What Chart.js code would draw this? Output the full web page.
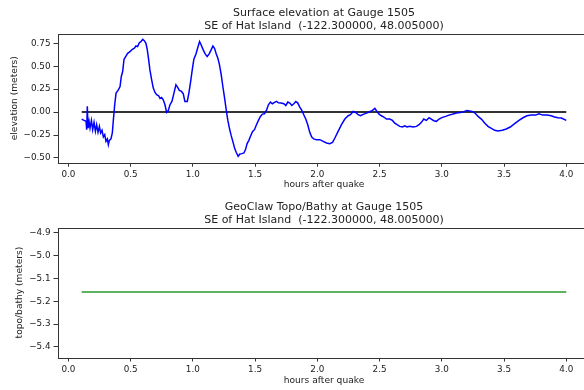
<!DOCTYPE html>
<html lang="en">
  <head>
    <meta charset="UTF-8" />
    <title>Gauge 1505</title>
    <script src="https://cdn.jsdelivr.net/npm/chart.js@4"></script>
    <style>
      html, body { margin: 0; padding: 0; background: #fff; overflow: hidden; width: 584px; height: 390px; }
      .panel { position: absolute; left: 0; width: 600px; }
      #topPanel { top: 0; height: 195px; }
      #botPanel { top: 194px; height: 196px; }
    </style>
  </head>
  <body>
    <div class="panel" id="topPanel"><canvas id="etaChart"></canvas></div>
    <div class="panel" id="botPanel"><canvas id="bathyChart"></canvas></div>

    <script>
      // gauge 1505 surface elevation
      const gaugeT = [
        0.107, 0.126, 0.142, 0.147, 0.152, 0.158, 0.166, 0.174, 0.185, 0.195,
        0.206, 0.217, 0.227, 0.238, 0.249, 0.259, 0.270, 0.281, 0.292, 0.302,
        0.313, 0.321, 0.329, 0.342, 0.353, 0.361, 0.372, 0.383, 0.399, 0.415,
        0.425, 0.436, 0.447, 0.460, 0.476, 0.495, 0.514, 0.530, 0.543, 0.556,
        0.570, 0.583, 0.597, 0.610, 0.623, 0.634, 0.645, 0.655, 0.669, 0.682,
        0.696, 0.709, 0.725, 0.736, 0.749, 0.762, 0.776, 0.789, 0.803, 0.816,
        0.832, 0.848, 0.864, 0.877, 0.891, 0.909, 0.923, 0.936, 0.955, 0.968,
        0.982, 0.995, 1.008, 1.025, 1.038, 1.054, 1.067, 1.083, 1.099, 1.115,
        1.131, 1.147, 1.161, 1.174, 1.188, 1.201, 1.214, 1.228, 1.241, 1.255,
        1.268, 1.281, 1.295, 1.308, 1.321, 1.335, 1.348, 1.364, 1.378, 1.394,
        1.410, 1.423, 1.436, 1.450, 1.463, 1.479, 1.495, 1.511, 1.527, 1.543,
        1.559, 1.575, 1.591, 1.607, 1.623, 1.639, 1.656, 1.672, 1.688, 1.709,
        1.731, 1.747, 1.763, 1.779, 1.795, 1.811, 1.827, 1.843, 1.859, 1.875,
        1.891, 1.907, 1.923, 1.939, 1.955, 1.971, 1.993,
        2.020, 2.047, 2.074, 2.100, 2.122, 2.141, 2.167, 2.194, 2.221, 2.248,
        2.266, 2.288, 2.309, 2.328, 2.347, 2.368, 2.395, 2.421, 2.443, 2.462,
        2.475, 2.496, 2.515, 2.534, 2.555, 2.582, 2.603, 2.622, 2.641, 2.662,
        2.684, 2.702, 2.721, 2.743, 2.769, 2.796, 2.817, 2.836, 2.855, 2.876,
        2.898, 2.916, 2.935, 2.957, 2.978, 3.005, 3.031, 3.058, 3.090, 3.117,
        3.149, 3.176, 3.203, 3.224, 3.251, 3.272, 3.291, 3.318, 3.344, 3.371,
        3.398, 3.425, 3.451, 3.486, 3.518, 3.550, 3.585, 3.620, 3.652, 3.684,
        3.719, 3.754, 3.780, 3.812, 3.845, 3.879, 3.906, 3.933, 3.960, 4.000
      ];
      const gaugeEta = [
        -0.076, -0.091, -0.101, -0.192, 0.062, -0.174, -0.101, -0.174, -0.091, -0.192,
        -0.112, -0.210, -0.138, -0.221, -0.156, -0.228, -0.199, -0.272, -0.246, -0.319,
        -0.293, -0.355, -0.308, -0.293, -0.228, -0.091, 0.080, 0.207, 0.236, 0.279,
        0.388, 0.442, 0.576, 0.605, 0.641, 0.659, 0.685, 0.696, 0.721, 0.714,
        0.757, 0.768, 0.793, 0.779, 0.750, 0.678, 0.569, 0.460, 0.351, 0.261,
        0.214, 0.189, 0.178, 0.149, 0.159, 0.134, 0.080, -0.004, 0.018, 0.080,
        0.116, 0.206, 0.297, 0.272, 0.236, 0.225, 0.199, 0.116, 0.116, 0.207,
        0.333, 0.460, 0.576, 0.634, 0.696, 0.768, 0.732, 0.678, 0.634, 0.605,
        0.634, 0.678, 0.721, 0.696, 0.634, 0.587, 0.515, 0.406, 0.279, 0.152,
        0.025, -0.091, -0.185, -0.257, -0.319, -0.391, -0.438, -0.482, -0.457, -0.453,
        -0.446, -0.409, -0.344, -0.308, -0.264, -0.214, -0.192, -0.138, -0.091, -0.047,
        -0.022, -0.018, 0.018, 0.080, 0.109, 0.091, 0.105, 0.116, 0.101, 0.098,
        0.091, 0.072, 0.109, 0.098, 0.072, 0.091, 0.116, 0.098, 0.054, 0.018,
        -0.029, -0.076, -0.138, -0.221, -0.272, -0.293, -0.301,
        -0.301, -0.319, -0.337, -0.344, -0.330, -0.283, -0.210, -0.138, -0.076, -0.040,
        -0.029, 0.007, -0.004, -0.029, -0.040, -0.025, -0.011, 0.004, 0.018, 0.040,
        0.014, -0.022, -0.040, -0.054, -0.076, -0.076, -0.091, -0.120, -0.138, -0.156,
        -0.163, -0.149, -0.163, -0.156, -0.163, -0.156, -0.138, -0.112, -0.076, -0.091,
        -0.062, -0.076, -0.094, -0.101, -0.076, -0.058, -0.047, -0.033, -0.022, -0.011,
        -0.004, 0.004, 0.018, 0.011, 0.004, -0.018, -0.047, -0.076, -0.120, -0.156,
        -0.178, -0.199, -0.207, -0.199, -0.185, -0.163, -0.127, -0.091, -0.062, -0.040,
        -0.033, -0.033, -0.018, -0.033, -0.033, -0.040, -0.054, -0.062, -0.065, -0.091
      ];

      // sea level reference and bathymetry at the gauge
      const zeroT = [0.107, 4.0];
      const zeroEta = [0, 0];
      const bathyT = [0.107, 4.0];
      const bathyB = [-5.16, -5.16];

      // tick labels
      const hourTicks = [0, 0.5, 1.0, 1.5, 2.0, 2.5, 3.0, 3.5, 4.0];
      const etaTicks = [-0.5, -0.25, 0, 0.25, 0.5, 0.75];
      const bathyTicks = [-5.4, -5.3, -5.2, -5.1, -5.0, -4.9];

      const FONT = "'DejaVu Sans', sans-serif";
      const INK = "#222";

      const toXY = (xs, ys) => xs.map((x, i) => ({ x, y: ys[i] }));
      const fmt = (v, d) => v.toFixed(d).replace("-", "\u2212");

      // matplotlib-like axes box
      const frame = {
        id: "frame",
        afterDatasetsDraw(chart) {
          const { ctx, chartArea: a } = chart;
          ctx.save();
          ctx.strokeStyle = "#333";
          ctx.lineWidth = 1;
          ctx.strokeRect(Math.round(a.left) + 0.5, Math.round(a.top) + 0.5,
            Math.round(a.right - a.left), Math.round(a.bottom - a.top));
          ctx.restore();
        },
      };

      function makeChart(id, cfg) {
        const tickGrid = { drawOnChartArea: false, drawTicks: true, tickLength: 4, tickColor: "#333", tickWidth: 1 };
        return new Chart(document.getElementById(id), {
          type: "line",
          data: { datasets: cfg.datasets },
          options: {
            responsive: true,
            maintainAspectRatio: false,
            animation: false,
            layout: { padding: { left: 0, right: 9.5, top: 0, bottom: 0 } },
            elements: { point: { radius: 0 }, line: { tension: 0 } },
            plugins: {
              legend: { display: false },
              tooltip: { enabled: false },
              title: {
                display: true,
                fullSize: false,
                text: cfg.title,
                color: INK,
                font: { family: FONT, size: 11, weight: "normal", lineHeight: 1.18 },
                padding: { top: 7, bottom: 0.7 },
              },
            },
            scales: {
              x: {
                type: "linear",
                min: -0.0875,
                max: 4.1946,
                afterBuildTicks: (s) => { s.ticks = hourTicks.map((v) => ({ value: v })); },
                afterFit: (s) => { s.height = cfg.xHeight; },
                grid: tickGrid,
                border: { display: false },
                ticks: {
                  padding: 3, color: INK, autoSkip: false, maxRotation: 0,
                  font: { family: FONT, size: 8.8 },
                  callback: (v) => fmt(v, 1),
                },
                title: {
                  display: true, text: "hours after quake", color: INK,
                  font: { family: FONT, size: 9.1 },
                  padding: { top: 0, bottom: cfg.xTitlePad },
                },
              },
              y: {
                type: "linear",
                min: cfg.yMin,
                max: cfg.yMax,
                afterBuildTicks: (s) => { s.ticks = cfg.yTicks.map((v) => ({ value: v })); },
                afterFit: (s) => { s.width = 57.5; },
                grid: tickGrid,
                border: { display: false },
                ticks: {
                  padding: 3, color: INK,
                  font: { family: FONT, size: 8.8 },
                  callback: (v) => fmt(v, cfg.yDigits),
                },
                title: {
                  display: true, text: cfg.yTitle, color: INK,
                  font: { family: FONT, size: 9.1 },
                  padding: { top: cfg.yTitlePad, bottom: 0 },
                },
              },
            },
          },
          plugins: [frame],
        });
      }

      makeChart("etaChart", {
        title: ["Surface elevation at Gauge 1505", "SE of Hat Island  (-122.300000, 48.005000)"],
        datasets: [
          { data: toXY(gaugeT, gaugeEta), borderColor: "#0000ff", borderWidth: 1.5 },
          { data: toXY(zeroT, zeroEta), borderColor: "#333", borderWidth: 2 },
        ],
        yMin: -0.552,
        yMax: 0.855,
        yTicks: etaTicks,
        yDigits: 2,
        yTitle: "elevation (meters)",
        yTitlePad: 9.5,
        xHeight: 32.3,
        xTitlePad: 4.5,
      });

      makeChart("bathyChart", {
        title: ["GeoClaw Topo/Bathy at Gauge 1505", "SE of Hat Island  (-122.300000, 48.005000)"],
        datasets: [
          { data: toXY(bathyT, bathyB), borderColor: "#2a9a2a", borderWidth: 1.5 },
        ],
        yMin: -5.446,
        yMax: -4.878,
        yTicks: bathyTicks,
        yDigits: 1,
        yTitle: "topo/bathy (meters)",
        yTitlePad: 14.5,
        xHeight: 32.5,
        xTitlePad: 3.5,
      });
    </script>
  </body>
</html>
